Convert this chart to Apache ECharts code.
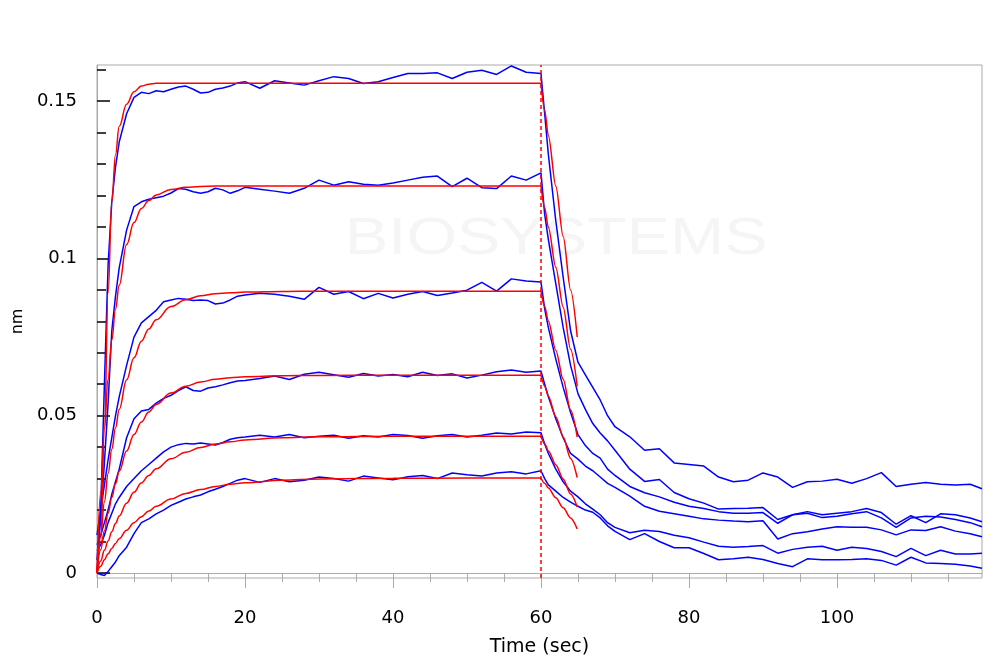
<!DOCTYPE html>
<html>
<head>
<meta charset="utf-8">
<script src="https://cdn.jsdelivr.net/npm/echarts@6/dist/echarts.min.js"></script>
<style>
html,body{margin:0;padding:0;background:#fff;}
#chart{width:1000px;height:669px;}
</style>
</head>
<body>
<div id="chart"></div>
<script>
// ---- time axes (sec) ----
const tAssoc = [0,0.5,1,1.5,2,2.5,3,4,5,6,7,8,9,10,11,12,13,14,15,16,17,18,19,20,22,24,26,28,30,32,34,36,38,40,42,44,46,48,50,52,54,56,58,60];
const tDiss = [60.5,61,62,63,64,65,66,67,68,69,70,72,74,76,78,80,82,84,86,88,90,92,94,96,98,100,102,104,106,108,110,112,114,116,118,119.6];
const tFitA = [0,0.5,1,1.5,2,2.5,3,4,5,6,7,8,10,12,14,16,18,20,25,30,40,50,60];
const tFitD = [60,60.5,61,62,63,64,64.9];

// ---- measured (blue) association, nm ----
const blue1A = [0,0.02,0.06,0.098,0.118,0.129,0.137,0.146,0.1512,0.1528,0.1524,0.1533,0.1530,0.1538,0.1545,0.1548,0.1538,0.1526,0.1528,0.1538,0.1542,0.1548,0.1558,0.1562,0.1541,0.1565,0.1558,0.1551,0.1565,0.1578,0.1572,0.1556,0.1562,0.1575,0.1588,0.1588,0.1590,0.1572,0.1592,0.1598,0.1585,0.1612,0.1592,0.1588];
const blue2A = [0.004,0.018,0.035,0.054,0.077,0.088,0.097,0.109,0.1165,0.118,0.1188,0.1193,0.1198,0.1208,0.1222,0.1220,0.1212,0.1207,0.1212,0.1223,0.1218,0.1207,0.1215,0.1226,0.1220,0.1214,0.1207,0.1223,0.1249,0.1233,0.1244,0.1236,0.1233,0.1240,0.1249,0.1258,0.1262,0.1228,0.1255,0.1225,0.1222,0.1262,0.1249,0.1272];
const blue3A = [0.012,0.02,0.028,0.036,0.043,0.050,0.056,0.066,0.075,0.0795,0.0815,0.0835,0.0862,0.0868,0.0873,0.0870,0.0866,0.0868,0.0866,0.0855,0.0858,0.0868,0.0880,0.0884,0.0889,0.0886,0.0880,0.0870,0.0908,0.0886,0.0895,0.0872,0.0889,0.0874,0.0886,0.0895,0.0882,0.0890,0.0899,0.0924,0.0896,0.0935,0.0928,0.0925];
const blue4A = [0.009,0.012,0.016,0.020,0.025,0.029,0.033,0.043,0.049,0.0515,0.052,0.054,0.0555,0.0565,0.058,0.0592,0.058,0.0578,0.0588,0.0592,0.0598,0.0605,0.061,0.0612,0.0618,0.0626,0.0615,0.0632,0.0638,0.0630,0.0622,0.0634,0.0626,0.0631,0.0624,0.0638,0.0628,0.0633,0.0620,0.0629,0.0640,0.0645,0.0638,0.0642];
const blue5A = [0.007,0.009,0.012,0.016,0.019,0.022,0.024,0.0275,0.030,0.0325,0.0345,0.0365,0.0385,0.040,0.0408,0.0412,0.0410,0.0413,0.0410,0.0407,0.0415,0.0425,0.0430,0.0432,0.0438,0.0432,0.0440,0.0430,0.0435,0.0438,0.0428,0.0436,0.0432,0.0440,0.0437,0.0428,0.0436,0.0440,0.0432,0.0438,0.0445,0.0442,0.0448,0.0446];
const blue6A = [0.0,-0.0005,-0.0008,0.0005,0.002,0.0035,0.0055,0.0082,0.0125,0.0160,0.0172,0.0188,0.0200,0.0215,0.0225,0.0235,0.0242,0.0248,0.0258,0.0266,0.0275,0.0285,0.0295,0.0300,0.0288,0.0300,0.0290,0.0295,0.0305,0.0300,0.0292,0.0308,0.0302,0.0296,0.0306,0.0310,0.0300,0.0318,0.0312,0.0308,0.0318,0.0322,0.0315,0.0325];

// ---- measured (blue) dissociation, nm ----
const blue1D = [0.146,0.133,0.112,0.094,0.077,0.067,0.063,0.059,0.055,0.050,0.0465,0.0433,0.039,0.0395,0.035,0.0345,0.034,0.0305,0.029,0.0295,0.0318,0.0305,0.0272,0.029,0.0292,0.0298,0.0285,0.030,0.0319,0.0275,0.0282,0.0288,0.0282,0.0280,0.0282,0.0268];
const blue2D = [0.114,0.106,0.092,0.078,0.066,0.057,0.052,0.0475,0.0445,0.042,0.039,0.033,0.0291,0.0297,0.0256,0.0236,0.0222,0.0203,0.0205,0.0206,0.0208,0.0170,0.0185,0.0195,0.0185,0.0190,0.0195,0.0205,0.0192,0.0155,0.0182,0.0160,0.0188,0.0185,0.0175,0.0163];
const blue3D = [0.084,0.078,0.068,0.059,0.051,0.044,0.0405,0.038,0.0365,0.033,0.031,0.0275,0.0255,0.0242,0.0225,0.0212,0.0205,0.0195,0.0190,0.0190,0.0192,0.0158,0.0185,0.0190,0.0176,0.0180,0.0188,0.0195,0.0175,0.0145,0.0175,0.0180,0.0178,0.0170,0.0160,0.0147];
const blue4D = [0.060,0.056,0.049,0.043,0.038,0.0362,0.034,0.0325,0.0305,0.0285,0.0272,0.0244,0.0212,0.0196,0.0188,0.0180,0.0172,0.0168,0.0165,0.0163,0.0166,0.0108,0.0125,0.0131,0.0140,0.0147,0.0145,0.0145,0.0137,0.0121,0.0137,0.0135,0.0147,0.0133,0.0125,0.0115];
const blue5D = [0.041,0.038,0.033,0.029,0.026,0.0242,0.022,0.0203,0.0185,0.016,0.0145,0.0128,0.0136,0.0132,0.0120,0.0112,0.0098,0.0085,0.0082,0.0084,0.0087,0.0063,0.0075,0.0082,0.0085,0.0072,0.0082,0.0078,0.0068,0.0052,0.0078,0.0055,0.0072,0.0060,0.0060,0.0063];
const blue6D = [0.030,0.028,0.026,0.024,0.0225,0.0212,0.020,0.0193,0.0175,0.0150,0.0132,0.0106,0.0125,0.0100,0.0080,0.0080,0.0062,0.0042,0.0045,0.0050,0.0043,0.0030,0.0020,0.0045,0.0042,0.0042,0.0043,0.0045,0.0040,0.0025,0.0050,0.0032,0.0030,0.0028,0.0022,0.0015];

// ---- fitted (red) association curves, nm ----
const fit1A = [0,0.010,0.045,0.089,0.118,0.133,0.142,0.149,0.153,0.1548,0.1554,0.1557,0.1557,0.1557,0.1557,0.1557,0.1557,0.1557,0.1557,0.1557,0.1557,0.1557,0.1557];
const fit2A = [0,0.0257,0.0458,0.0616,0.0741,0.0838,0.0915,0.1044,0.1114,0.1159,0.1184,0.1202,0.1219,0.1226,0.1229,0.123,0.123,0.123,0.123,0.123,0.123,0.123,0.123];
const fit3A = [0,0.0120,0.0226,0.0316,0.0393,0.0461,0.0520,0.0614,0.0684,0.0737,0.0776,0.0805,0.0847,0.0869,0.0881,0.0888,0.0891,0.0893,0.0895,0.0896,0.0896,0.0896,0.0896];
const fit4A = [0,0.0074,0.0134,0.0190,0.0240,0.0284,0.0323,0.0388,0.0440,0.0480,0.0512,0.0536,0.0572,0.0594,0.0607,0.0616,0.0621,0.0624,0.0627,0.0628,0.0629,0.0629,0.0629];
const fit5A = [0,0.0038,0.0072,0.0102,0.0131,0.0157,0.0181,0.0222,0.0257,0.0286,0.0310,0.0331,0.0363,0.0384,0.0399,0.0410,0.0417,0.0423,0.0430,0.0433,0.0435,0.0435,0.0435];
const fit6A = [0,0.0021,0.0042,0.0061,0.0078,0.0094,0.0109,0.0136,0.0160,0.0179,0.0197,0.0212,0.0235,0.0253,0.0265,0.0275,0.0282,0.0287,0.0295,0.0299,0.0301,0.0302,0.0302];

// ---- fitted (red) dissociation curves, nm ----
const fit1D = [0.1557,0.1471,0.1390,0.1230,0.1070,0.0900,0.0750];
const fit2D = [0.123,0.1162,0.1098,0.0972,0.0845,0.0711,0.0593];
const fit3D = [0.0896,0.0847,0.0800,0.0708,0.0616,0.0518,0.0432];
const fit4D = [0.0629,0.0594,0.0562,0.0497,0.0432,0.0364,0.0303];
const fit5D = [0.0435,0.0411,0.0388,0.0344,0.0299,0.0251,0.0210];
const fit6D = [0.0302,0.0285,0.0270,0.0239,0.0207,0.0175,0.0140];

// ---- axis ticks ----
const xMajor = [0,20,40,60,80,100];
const xMinor = [5,10,15,25,30,35,45,50,55,65,70,75,85,90,95,105,110,115];
const yMajor = [0,0.05,0.1,0.15];
const yMinor = [0.01,0.02,0.03,0.04,0.06,0.07,0.08,0.09,0.11,0.12,0.13,0.14,0.16];
const yLabelText = {'0':'0','0.05':'0.05','0.1':'0.1','0.15':'0.15'};

function pairs(ts, vs){ return ts.map((t,i)=>[t, vs[i]]); }

const blueA = [blue1A,blue2A,blue3A,blue4A,blue5A,blue6A];
const blueD = [blue1D,blue2D,blue3D,blue4D,blue5D,blue6D];
const fitA = [fit1A,fit2A,fit3A,fit4A,fit5A,fit6A];
const fitD = [fit1D,fit2D,fit3D,fit4D,fit5D,fit6D];

const series = [];
blueA.forEach((a,i)=>{
  series.push({
    type:'line', name:'raw'+(i+1), showSymbol:false, symbol:'none',
    data: pairs(tAssoc.concat(tDiss), a.concat(blueD[i])),
    lineStyle:{color:'#0000ff', width:1.5}, z:3
  });
});
fitA.forEach((a,i)=>{
  series.push({
    type:'line', name:'fitA'+(i+1), symbol:'none', smooth:0.4, smoothMonotone:'x',
    data: pairs(tFitA, a), lineStyle:{color:'#ff0000', width:1.5}, z:4
  });
  series.push({
    type:'line', name:'fitD'+(i+1), symbol:'none', smooth:0.3, smoothMonotone:'x',
    data: pairs(tFitD, fitD[i]), lineStyle:{color:'#ff0000', width:1.5}, z:4
  });
});
series[0].markLine = {
  symbol:'none', silent:true, label:{show:false},
  lineStyle:{color:'#ff0000', type:[4,3], width:1.5},
  data:[{xAxis:60}]
};

const chart = echarts.init(document.getElementById('chart'), null, {renderer:'canvas'});
const font = 'DejaVu Sans';
chart.setOption({
  animation:false,
  backgroundColor:'#ffffff',
  graphic:[{
    type:'text', left:345, top:214, z:0, silent:true,
    scaleX:1.25,
    style:{text:'BIOSYSTEMS', fontSize:52, fontFamily:'Liberation Sans', fill:'#f5f5f5'}
  }],
  grid:{left:97, right:18, top:65, bottom:91, show:true, borderColor:'#aaaaaa', borderWidth:1, backgroundColor:'transparent'},
  xAxis:[{
    type:'value', min:0, max:119.6, position:'bottom',
    axisLine:{show:true, lineStyle:{color:'#aaaaaa', width:1}},
    axisTick:{show:true, customValues:xMajor, length:15, lineStyle:{color:'#aaaaaa'}},
    axisLabel:{customValues:xMajor, margin:31, fontSize:18, color:'#000', fontFamily:font},
    splitLine:{show:false},
    name:'Time (sec)', nameLocation:'middle', nameGap:60,
    nameTextStyle:{fontSize:19, color:'#000', fontFamily:font}
  },{
    type:'value', min:0, max:119.6, position:'bottom',
    axisLine:{show:false},
    axisTick:{show:true, customValues:xMinor, length:9, lineStyle:{color:'#aaaaaa'}},
    axisLabel:{show:false}, splitLine:{show:false}
  }],
  yAxis:[{
    type:'value', min:-0.0016, max:0.1615,
    axisLine:{show:true, lineStyle:{color:'#aaaaaa', width:1}},
    axisTick:{show:true, inside:true, customValues:yMajor, length:13, lineStyle:{color:'#000', width:1.5}},
    axisLabel:{customValues:yMajor, margin:20, fontSize:18, color:'#000', fontFamily:font,
      formatter:function(v){ const k = String(Math.round(v*100)/100); return yLabelText[k] || k; }},
    splitLine:{show:false},
    name:'nm', nameLocation:'middle', nameGap:70, nameRotate:90,
    nameTextStyle:{fontSize:16, color:'#000', fontFamily:font}
  },{
    type:'value', min:-0.0016, max:0.1615, position:'left',
    axisLine:{show:false},
    axisTick:{show:true, inside:true, customValues:yMinor, length:9, lineStyle:{color:'#000', width:1.5}},
    axisLabel:{show:false}, splitLine:{show:false}
  }],
  series: series
});
</script>
</body>
</html>
